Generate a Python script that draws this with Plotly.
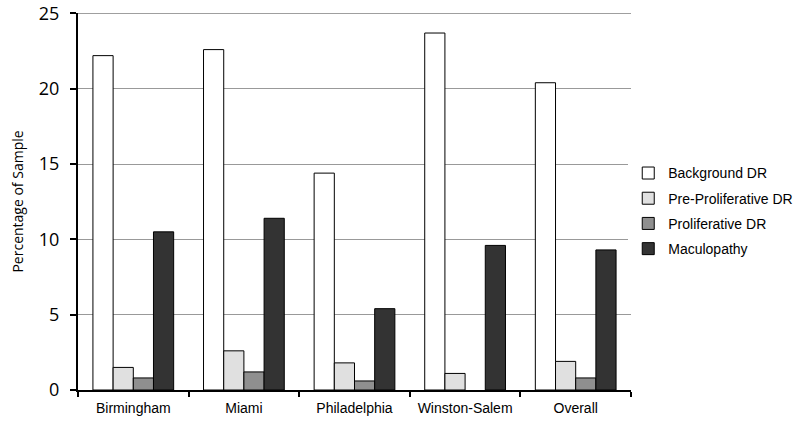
import plotly.graph_objs as go

# Data
sites = ["Birmingham", "Miami", "Philadelphia", "Winston-Salem", "Overall"]
background_dr = [22.2, 22.6, 14.4, 23.7, 20.4]
pre_proliferative_dr = [1.5, 2.6, 1.8, 1.1, 1.9]
proliferative_dr = [0.8, 1.2, 0.6, None, 0.8]  # no bar shown for Winston-Salem
maculopathy = [10.5, 11.4, 5.4, 9.6, 9.3]
y_ticks = [0, 5, 10, 15, 20, 25]

series = [
    ("Background DR", background_dr, "#ffffff"),
    ("Pre-Proliferative DR", pre_proliferative_dr, "#e0e0e0"),
    ("Proliferative DR", proliferative_dr, "#8f8f8f"),
    ("Maculopathy", maculopathy, "#333333"),
]

fig = go.Figure()
for name, vals, color in series:
    fig.add_trace(go.Bar(
        x=sites, y=vals, name=name, legendgroup=name,
        marker=dict(color=color, line=dict(color="black", width=1)),
    ))

# top gridline sits on the plot edge, plotly drops it, so draw it as a shape
fig.add_shape(type="line", xref="paper", x0=0, x1=1, yref="y", y0=y_ticks[-1], y1=y_ticks[-1],
              line=dict(color="#999999", width=1), layer="below")

fig.update_layout(
    width=800, height=426,
    barmode="group", bargap=0.27, bargroupgap=0,
    plot_bgcolor="white", paper_bgcolor="white",
    margin=dict(l=78, r=169, t=13, b=36, autoexpand=False),
    font=dict(family="Liberation Sans, Arial", size=14, color="black"),
    legend=dict(x=0.995, y=0.475, yanchor="middle", xanchor="left",
                font=dict(size=14), tracegroupgap=4, traceorder="grouped"),
    showlegend=True,
)
fig.update_xaxes(
    automargin=False,
    showline=True, linecolor="black", linewidth=2,
    ticks="outside", tickson="boundaries", ticklen=5, tickwidth=2, tickcolor="black",
    tickfont=dict(size=14), ticklabelstandoff=4,
)
fig.update_yaxes(
    automargin=False,
    range=[0, 25.03], tickvals=y_ticks,
    showline=True, linecolor="black", linewidth=2,
    ticks="outside", ticklen=6, tickwidth=2, tickcolor="black",
    showgrid=True, gridcolor="#999999", gridwidth=1,
    tickfont=dict(family="Open Sans", size=18), ticklabelstandoff=7,
    title=dict(text="Percentage of Sample", font=dict(family="Open Sans", size=14), standoff=12),
    zeroline=False,
)

# drop the browser's default body margin so the figure fills the window
fig.write_html("out.html", config={"displayModeBar": False},
               post_script="document.body.style.margin='0';")
